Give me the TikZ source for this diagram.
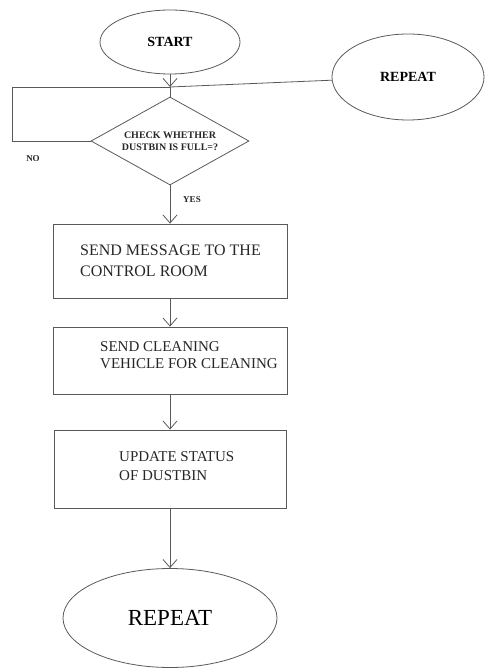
\documentclass[tikz,border=0pt]{standalone}
\usepackage{fontspec}
\setmainfont{Liberation Serif}
\usetikzlibrary{shapes.geometric,arrows.meta}
\tikzset{
  ln/.style={draw=black!65, line width=0.8pt},
  arr/.style={ln, -{Straight Barb[length=8pt,width=14pt]}},
  oval/.style={ellipse, ln, inner sep=0pt},
  stepbox/.style={rectangle, ln, inner sep=0pt},
  txt/.style={text=black!85, inner sep=0pt},
}
\begin{document}
\begin{tikzpicture}[x=1pt,y=-1pt]
\useasboundingbox (0,0) rectangle (484,668);
\node[oval, minimum width=140pt, minimum height=64pt, font=\fontsize{14}{16}\selectfont\bfseries] (start) at (170,42) {START};
\node[oval, minimum width=152pt, minimum height=86pt, font=\fontsize{14}{16}\selectfont\bfseries] (rep1) at (408,77) {REPEAT};
\coordinate (J) at (170,87);
\node[diamond, ln, aspect=1.8, inner sep=1pt, minimum width=158pt, minimum height=88pt,
      align=center, text=black!85, font=\fontsize{10}{12}\selectfont\bfseries] (dia) at (170,141)
  {CHECK WHETHER\\DUSTBIN IS FULL=?};
\coordinate (c1) at (12,141);
\coordinate (c2) at (12,87);
\node[stepbox, minimum width=234pt, minimum height=74pt] (b1) at (170,261) {};
\node[txt, anchor=west, align=left, font=\fontsize{16}{21}\selectfont] (t1) at (80,261)
  {SEND MESSAGE TO THE\\CONTROL ROOM};
\node[stepbox, minimum width=234pt, minimum height=67pt] (b2) at (170,360.5) {};
\node[txt, anchor=west, align=left, font=\fontsize{15}{17}\selectfont] (t2) at (100,355)
  {SEND CLEANING\\VEHICLE FOR CLEANING};
\node[stepbox, minimum width=232pt, minimum height=78pt] (b3) at (170,469) {};
\node[txt, anchor=west, align=left, font=\fontsize{15}{19}\selectfont] (t3) at (119,466)
  {UPDATE STATUS\\OF DUSTBIN};
\node[oval, minimum width=214pt, minimum height=99pt, font=\fontsize{23}{26}\selectfont] (rep2) at (170,618) {REPEAT};
\node[txt, font=\fontsize{9}{10}\selectfont\bfseries] (no) at (33,159) {NO};
\node[txt, font=\fontsize{9}{10}\selectfont\bfseries] (yes) at (192,200) {YES};
% connectors
\draw[arr] (start.south) -- (J);
\draw[ln] (J) -- (rep1);
\draw[ln] (J) -- (dia.north);
\draw[ln] (dia.west) -- (c1) -- (c2) -- (J);
\draw[arr] (dia.south) -- (b1.north);
\draw[arr] (b1.south) -- (b2.north);
\draw[arr] (b2.south) -- (b3.north);
\draw[arr] (b3.south) -- (rep2.north);
\end{tikzpicture}
\end{document}
